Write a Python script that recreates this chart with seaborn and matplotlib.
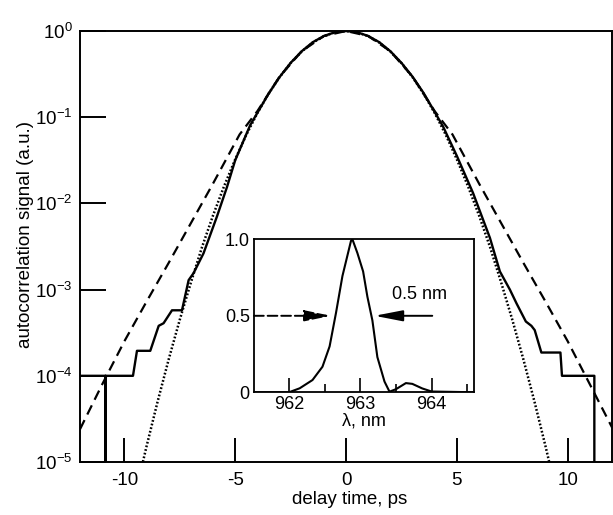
import numpy as np
import pandas as pd
import matplotlib
matplotlib.use("Agg")
import matplotlib.pyplot as plt
from matplotlib.ticker import NullLocator, FixedLocator
import seaborn as sns

# ---------------- main panel data (delay time in ps, log10 of signal) ----------------
solid_t = [-12.0, -10.85, -10.85, -10.85, -9.61, -9.43, -8.83, -8.45, -8.23, -7.85,
           -7.40, -7.10, -6.88, -6.43, -5.82, -5.37, -5.0, -4.32, -4.0, -3.5,
           -3.0, -2.5, -2.0, -1.5, -1.0, -0.5, 0.0, 0.5, 1.0, 1.5,
           2.0, 2.5, 3.0, 3.5, 4.0, 4.38, 5.0, 5.73, 6.49, 6.94,
           7.39, 7.69, 8.11, 8.36, 8.51, 8.81, 9.67, 9.74, 11.2, 11.2]
solid_log = [-4.0, -4.0, -5.1, -4.0, -4.0, -3.71, -3.71, -3.42, -3.39, -3.24,
             -3.24, -2.89, -2.81, -2.58, -2.15, -1.81, -1.50, -1.09, -0.95, -0.73,
             -0.535, -0.37, -0.235, -0.13, -0.058, -0.014, 0.0, -0.014, -0.058, -0.13,
             -0.235, -0.37, -0.53, -0.72, -0.94, -1.11, -1.45, -1.88, -2.40, -2.79,
             -3.0, -3.16, -3.37, -3.42, -3.47, -3.73, -3.73, -4.0, -4.0, -5.1]

dotted_t = [-9.2, -9.0, -8.5, -8.0, -7.5, -7.0, -6.5, -6.0, -5.5, -5.0, -4.5, -4.0,
            -3.5, -3.0, -2.5, -2.0, -1.5, -1.0, -0.5, 0.0, 0.5, 1.0, 1.5, 2.0,
            2.5, 3.0, 3.5, 4.0, 4.5, 5.0, 5.5, 6.0, 6.5, 7.0, 7.5, 8.0, 8.5, 9.0, 9.2]
dotted_log = [-5.04, -4.82, -4.30, -3.81, -3.35, -2.92, -2.51, -2.14, -1.80, -1.49, -1.205, -0.952,
              -0.729, -0.536, -0.372, -0.238, -0.134, -0.060, -0.015, 0.0, -0.015, -0.060, -0.134, -0.238,
              -0.372, -0.536, -0.729, -0.952, -1.205, -1.49, -1.80, -2.14, -2.51, -2.92, -3.35, -3.81, -4.30, -4.82, -5.04]

dashed_t = [-12.0, -11.0, -10.0, -9.0, -8.0, -7.0, -6.0, -4.8, -4.0, -3.0, -2.0, -1.0, 0.0,
            1.0, 2.0, 3.0, 4.0, 4.8, 6.0, 7.0, 8.0, 9.0, 10.0, 11.0, 12.0]
dashed_log = [-4.62, -4.10, -3.60, -3.14, -2.69, -2.23, -1.77, -1.20, -0.93, -0.53, -0.235, -0.058, 0.0,
              -0.058, -0.235, -0.53, -0.93, -1.20, -1.77, -2.23, -2.69, -3.14, -3.60, -4.10, -4.60]

x_ticks = [-10, -5, 0, 5, 10]
y_tick_exps = [0, -1, -2, -3, -4, -5]

# ---------------- inset data (wavelength nm, normalised intensity) ----------------
inset_lam = [961.51, 962.0, 962.15, 962.33, 962.47, 962.57, 962.66, 962.75, 962.87, 962.89,
             962.96, 963.04, 963.10, 963.17, 963.24, 963.34, 963.41, 963.50, 963.64, 963.73,
             963.87, 964.0, 964.6]
inset_int = [0.0, 0.0, 0.026, 0.08, 0.167, 0.30, 0.52, 0.76, 0.99, 1.0,
             0.91, 0.79, 0.625, 0.47, 0.23, 0.07, 0.004, 0.02, 0.06, 0.055,
             0.025, 0.005, 0.0]
inset_xticks = [962, 963, 964]
inset_xminor = [962.5, 963.5, 964.5]
inset_yticks = [0.0, 0.5, 1.0]
inset_ylabels = ["0", "0.5", "1.0"]

# ---------------- style ----------------
sns.set_theme(style="white")
plt.rcParams["font.family"] = ["Liberation Sans", "DejaVu Sans"]
plt.rcParams["mathtext.fontset"] = "custom"
plt.rcParams["mathtext.rm"] = "Liberation Sans"
plt.rcParams["mathtext.it"] = "Liberation Sans:italic"
plt.rcParams["mathtext.bf"] = "Liberation Sans:bold"
plt.rcParams["axes.unicode_minus"] = False

fig = plt.figure(figsize=(6.13, 5.15), dpi=100)
ax = fig.add_axes([0.1305, 0.1029, 0.868, 0.8369])
ax.set_yscale("log")

df_solid = pd.DataFrame({"t": solid_t, "s": 10.0 ** np.array(solid_log)})
df_dot = pd.DataFrame({"t": dotted_t, "s": 10.0 ** np.array(dotted_log)})
df_dash = pd.DataFrame({"t": dashed_t, "s": 10.0 ** np.array(dashed_log)})

sns.lineplot(data=df_dash, x="t", y="s", sort=False, estimator=None, ax=ax,
             color="black", lw=1.6, linestyle=(0, (4.6, 2.8)))
sns.lineplot(data=df_dot, x="t", y="s", sort=False, estimator=None, ax=ax,
             color="black", lw=1.8, linestyle=(0, (0.7, 0.8)))
sns.lineplot(data=df_solid, x="t", y="s", sort=False, estimator=None, ax=ax,
             color="black", lw=1.7)

ax.set_xlim(-12, 12)
ax.set_ylim(1e-5, 1.0)
ax.xaxis.set_major_locator(FixedLocator(x_ticks))
ax.set_xticklabels([str(v) for v in x_ticks])
ax.yaxis.set_major_locator(FixedLocator([10.0 ** e for e in y_tick_exps]))
ax.set_yticklabels([r"$10^{%d}$" % e for e in y_tick_exps])
ax.yaxis.set_minor_locator(NullLocator())
ax.xaxis.set_minor_locator(NullLocator())

ax.tick_params(axis="x", which="major", direction="in", length=17.3, width=1.4,
               bottom=True, top=False, labelsize=13.5, pad=7, colors="black")
ax.tick_params(axis="y", which="major", direction="in", length=18.7, width=1.4,
               left=True, right=False, labelsize=13.5, pad=5.5, colors="black")
for sp in ax.spines.values():
    sp.set_visible(True)
    sp.set_color("black")
    sp.set_linewidth(1.4)

ax.set_xlabel("delay time, ps", fontsize=13.5, color="black")
ax.set_ylabel("autocorrelation signal (a.u.)", fontsize=13.5, color="black")
ax.xaxis.set_label_coords(0.5075, -0.068)
ax.yaxis.set_label_coords(-0.0865, 0.527)

# ---------------- inset ----------------
axi = fig.add_axes([0.4144, 0.2383, 0.3594, 0.297])
axi.set_facecolor("white")
df_in = pd.DataFrame({"lam": inset_lam, "I": inset_int})
sns.lineplot(data=df_in, x="lam", y="I", sort=False, estimator=None, ax=axi,
             color="black", lw=1.5)
axi.set_xlim(961.51, 964.6)
axi.set_ylim(0, 1.0)
axi.xaxis.set_major_locator(FixedLocator(inset_xticks))
axi.xaxis.set_minor_locator(FixedLocator(inset_xminor))
axi.set_xticklabels([str(v) for v in inset_xticks])
axi.yaxis.set_major_locator(FixedLocator(inset_yticks))
axi.set_yticklabels(inset_ylabels)
axi.tick_params(axis="x", which="major", direction="in", length=10, width=1.2,
                bottom=True, labelsize=13, pad=3, colors="black")
axi.tick_params(axis="x", which="minor", direction="in", length=5.8, width=1.2,
                bottom=True, colors="black")
axi.tick_params(axis="y", which="major", length=0, left=True, labelsize=13,
                pad=3, colors="black")
for sp in axi.spines.values():
    sp.set_visible(True)
    sp.set_color("black")
    sp.set_linewidth(1.3)
axi.set_xlabel("λ, nm", fontsize=13, labelpad=-1, color="black")
axi.set_ylabel("")

axi.annotate("", xy=(962.59, 0.5), xytext=(961.51, 0.5),
             arrowprops=dict(arrowstyle="-|>,head_length=1.6,head_width=0.33",
                             lw=1.4, ls=(0, (5, 2)), color="black",
                             shrinkA=0, shrinkB=0, mutation_scale=10))
axi.annotate("", xy=(963.2, 0.5), xytext=(964.01, 0.5),
             arrowprops=dict(arrowstyle="-|>,head_length=1.7,head_width=0.33",
                             lw=1.4, color="black",
                             shrinkA=0, shrinkB=0, mutation_scale=10))
axi.text(963.83, 0.64, "0.5 nm", ha="center", va="center", fontsize=13, color="black")

fig.savefig("out.png", dpi=100)
